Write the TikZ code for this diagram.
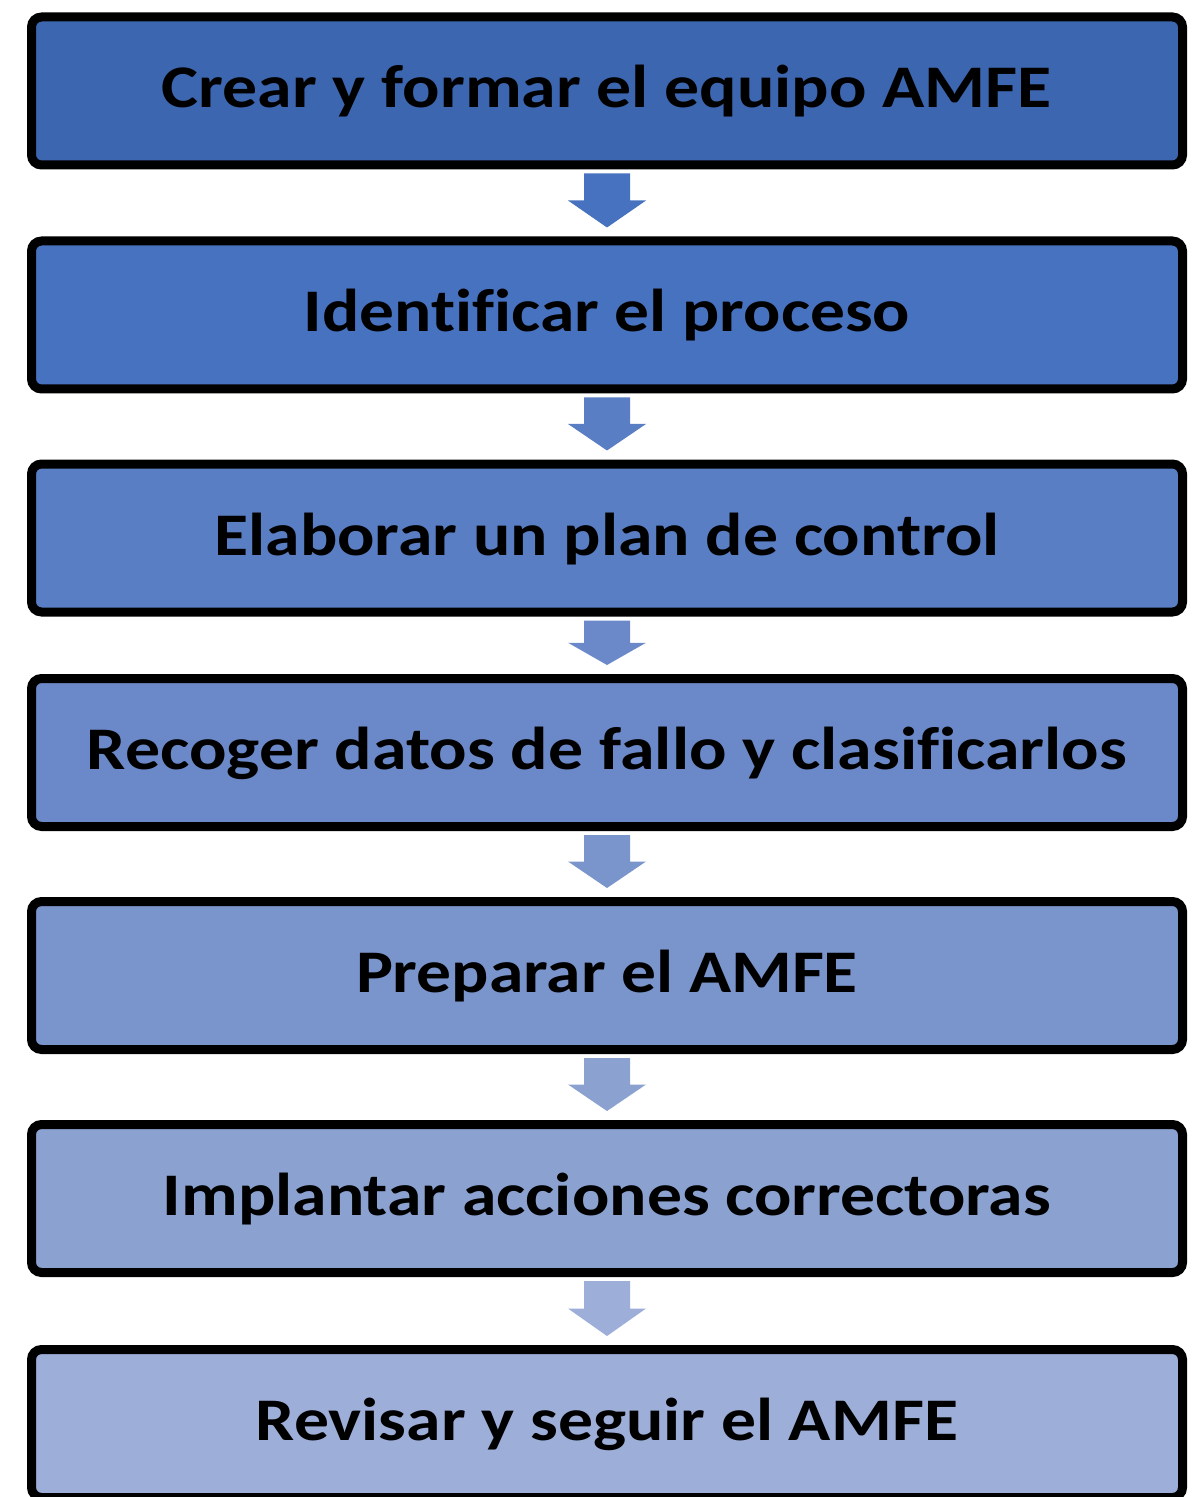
\documentclass[tikz,border=0pt]{standalone}
\usepackage{fontspec}
\setmainfont{Carlito}[Ligatures=NoCommon]
\usetikzlibrary{calc}
\definecolor{c1}{HTML}{3D66B0}
\definecolor{c2}{HTML}{4772C0}
\definecolor{c3}{HTML}{5A7EC4}
\definecolor{c4}{HTML}{6B89C8}
\definecolor{c5}{HTML}{7A95CC}
\definecolor{c6}{HTML}{8BA2D1}
\definecolor{c7}{HTML}{9DAED8}
\newcommand\fitw[2]{\resizebox{#1}{\height}{#2}}
\tikzset{
  stepbox/.style={draw=black, line width=4.5pt, rounded corners=5pt,
    rectangle, inner sep=0pt, minimum width=575.5pt, minimum height=74pt,
    text height=20pt, text depth=3pt,
    font=\fontsize{30.25}{36}\selectfont\bfseries},
}
\begin{document}
\begin{tikzpicture}[x=0.5pt,y=-0.5pt]
\useasboundingbox (0,0) rectangle (1193,1497);
\clip (0,0) rectangle (1193,1497);
\fill[white] (0,0) rectangle (1193,1497);
\node[stepbox, fill=c1] (b1) at (607,91) {\fitw{445pt}{Crear y formar el equipo AMFE}};
\node[stepbox, fill=c2] (b2) at (607,315) {\fitw{303pt}{Identificar el proceso}};
\node[stepbox, fill=c3] (b3) at (607,538) {\fitw{392.5pt}{Elaborar un plan de control}};
\node[stepbox, fill=c4] (b4) at (607,752.5) {\fitw{520pt}{Recoger datos de fallo y clasificarlos}};
\node[stepbox, fill=c5] (b5) at (607,975.5) {\fitw{251pt}{Preparar el AMFE}};
\node[stepbox, fill=c6] (b6) at (607,1198.5) {\fitw{444pt}{Implantar acciones correctoras}};
\node[stepbox, fill=c7] (b7) at (607,1423.5) {\fitw{351pt}{Revisar y seguir el AMFE}};
\foreach \a/\b/\col in {b1/b2/c2, b2/b3/c3, b3/b4/c4, b4/b5/c5, b5/b6/c6, b6/b7/c7}{
  \coordinate (t-\a) at ($(\a.south)+(0,4)$);
  \coordinate (p-\a) at ($(\b.north)+(0,-9)$);
  \coordinate (m-\a) at ($(t-\a)!0.5!(p-\a)$);
  \fill[\col] ($(t-\a)+(-23,0)$) -- ($(t-\a)+(23,0)$) -- ($(m-\a)+(23,0)$)
    -- ($(m-\a)+(39,0)$) -- (p-\a) -- ($(m-\a)+(-39,0)$) -- ($(m-\a)+(-23,0)$) -- cycle;
}
\end{tikzpicture}
\end{document}
